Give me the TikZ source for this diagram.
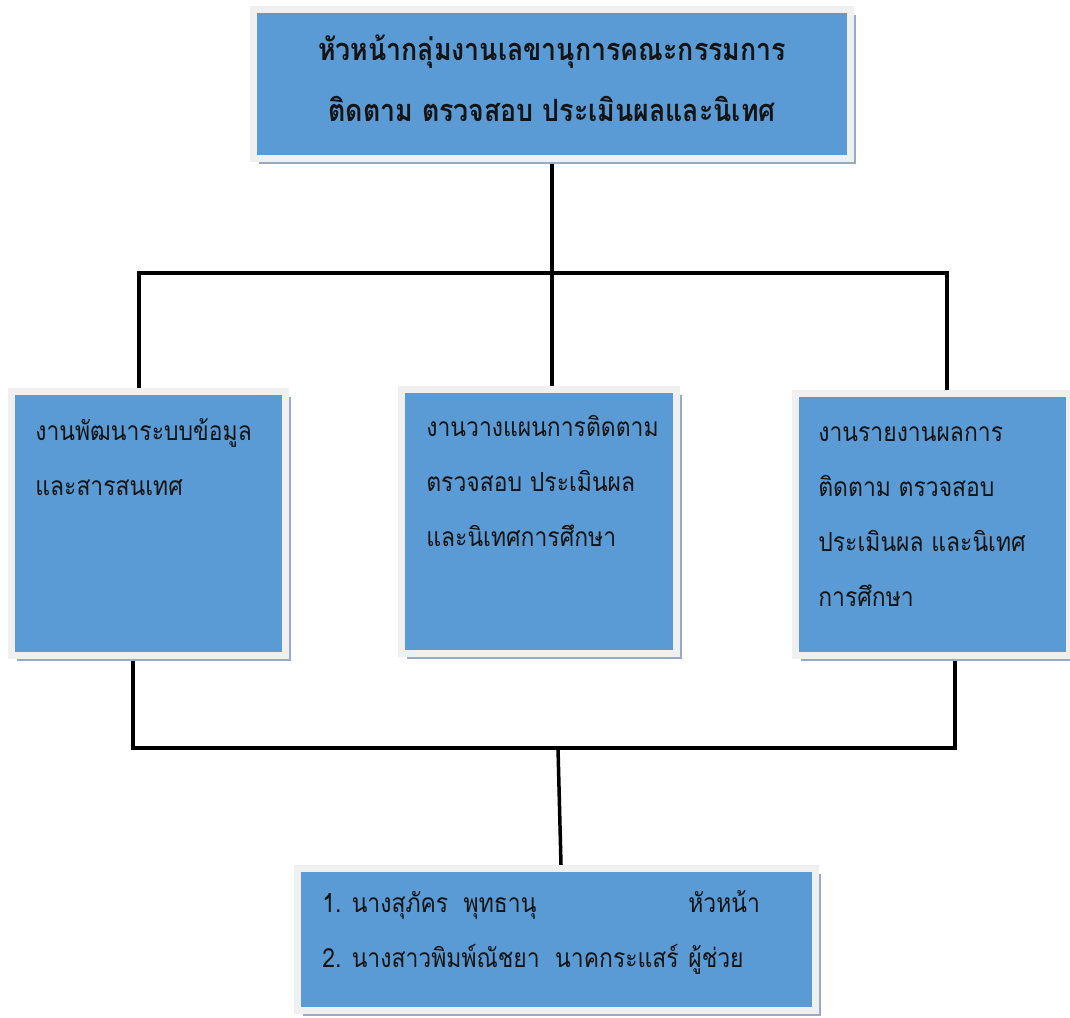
\documentclass[tikz,border=0pt]{standalone}
\usepackage{fontspec}
\newfontfamily\thaifont[Script=Thai, FakeStretch=0.87]{Loma}
\usetikzlibrary{shadows,backgrounds,calc}
\definecolor{boxblue}{HTML}{5B9BD5}
\definecolor{framegray}{HTML}{F0F0F0}
\definecolor{shadowblue}{HTML}{97ABC6}
\definecolor{inktext}{HTML}{141414}

\begin{document}
\begin{tikzpicture}[x=0.02cm,y=-0.02cm,
  orgbox/.style={rectangle, fill=boxblue, draw=framegray, line width=0.14cm, inner sep=0pt,
    drop shadow={shadow xshift=0.11cm, shadow yshift=-0.11cm, fill=shadowblue, opacity=1}},
  boxtext/.style={anchor=north west, align=left, inner sep=0pt, text=inktext,
    font=\thaifont\fontsize{15}{31.3}\selectfont},
  headtext/.style={align=center, inner sep=0pt, text=inktext,
    font=\thaifont\bfseries\fontsize{17.5}{34.5}\selectfont},
  link/.style={line width=0.07cm, line cap=rect, black}]

\useasboundingbox (0,0) rectangle (1070,1017);

% boxes: the node path runs through the middle of the grey frame
\node[orgbox, minimum width=11.94cm, minimum height=2.98cm] (head)  at (552,84) {};
\node[orgbox, minimum width=5.48cm, minimum height=5.28cm]  (left)  at (148.5,523.5) {};
\node[orgbox, minimum width=5.50cm, minimum height=5.28cm]  (mid)   at (539,521.5) {};
\node[orgbox, minimum width=5.48cm, minimum height=5.24cm]  (right) at (932.5,524.5) {};
\node[orgbox, minimum width=10.36cm, minimum height=2.84cm] (staff) at (556.5,939.5) {};

% texts
\node[headtext] (headtxt) at (552,78)
  {หัวหน้ากลุ่มงานเลขานุการคณะกรรมการ\\ติดตาม ตรวจสอบ ประเมินผลและนิเทศ};
\node[boxtext] (lefttxt) at (35,418)
  {งานพัฒนาระบบข้อมูล\\และสารสนเทศ};
\node[boxtext] (midtxt) at (426,415)
  {งานวางแผนการติดตาม\\ตรวจสอบ ประเมินผล\\และนิเทศการศึกษา};
\node[boxtext] (righttxt) at (818,426)
  {งานรายงานผลการ\\ติดตาม ตรวจสอบ\\ประเมินผล และนิเทศ\\การศึกษา};
\node[boxtext] (stafftxt) at (322,890)
  {\makebox[7.32cm][l]{1. นางสุภัคร~~พุทธานุ}หัวหน้า\\
   \makebox[7.32cm][l]{2. นางสาวพิมพ์ณัชยา~~นาคกระแสร์}ผู้ช่วย};

% connectors, kept behind the boxes
\begin{scope}[on background layer]
  \coordinate (barL) at (139,273);
  \coordinate (barR) at (947,273);
  \coordinate (lowL) at (133,748);
  \coordinate (lowR) at (955,748);
  \coordinate (lowC) at (558,748);
  \draw[link] (head.south) -- (head.south |- mid.north);
  \draw[link] (left.north -| barL) -- (barL) -- (barR) -- (right.north -| barR);
  \draw[link] (left.south -| lowL) -- (lowL) -- (lowR) -- (right.south -| lowR);
  \draw[link] (lowC) -- ($(staff.north)+(4.5,0)$);
\end{scope}
\end{tikzpicture}
\end{document}
